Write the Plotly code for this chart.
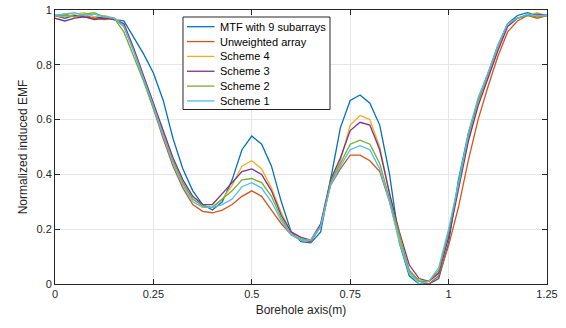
import plotly.graph_objects as go

x = [0, 0.025, 0.05, 0.075, 0.1, 0.125, 0.15, 0.175, 0.2, 0.225,
     0.25, 0.275, 0.3, 0.325, 0.35, 0.375, 0.4, 0.425, 0.45, 0.475,
     0.5, 0.525, 0.55, 0.575, 0.6, 0.625, 0.65, 0.675, 0.7, 0.725,
     0.75, 0.775, 0.8, 0.825, 0.85, 0.875, 0.9, 0.925, 0.95, 0.975,
     1.0, 1.025, 1.05, 1.075, 1.1, 1.125, 1.15, 1.175, 1.2, 1.225, 1.25]

mtf = [0.98, 0.97, 0.98, 0.975, 0.97, 0.975, 0.965, 0.96, 0.90, 0.84,
       0.77, 0.67, 0.53, 0.42, 0.34, 0.29, 0.27, 0.30, 0.38, 0.49,
       0.54, 0.51, 0.43, 0.30, 0.19, 0.155, 0.15, 0.19, 0.38, 0.57,
       0.67, 0.69, 0.66, 0.58, 0.40, 0.15, 0.03, 0.0, 0.0, 0.02,
       0.15, 0.38, 0.55, 0.67, 0.76, 0.87, 0.95, 0.98, 0.99, 0.98, 0.98]

unweighted = [0.98, 0.985, 0.975, 0.98, 0.97, 0.965, 0.97, 0.94, 0.85, 0.75,
              0.64, 0.53, 0.43, 0.35, 0.29, 0.265, 0.26, 0.27, 0.29, 0.32,
              0.34, 0.32, 0.27, 0.22, 0.18, 0.16, 0.155, 0.21, 0.36, 0.42,
              0.47, 0.47, 0.45, 0.41, 0.30, 0.16, 0.05, 0.01, 0.0, 0.03,
              0.14, 0.28, 0.45, 0.60, 0.72, 0.83, 0.92, 0.96, 0.98, 0.97, 0.98]

scheme4 = [0.98, 0.975, 0.985, 0.99, 0.975, 0.98, 0.97, 0.95, 0.86, 0.76,
           0.66, 0.55, 0.45, 0.37, 0.31, 0.285, 0.28, 0.31, 0.36, 0.43,
           0.45, 0.42, 0.35, 0.26, 0.19, 0.16, 0.16, 0.21, 0.37, 0.45,
           0.58, 0.615, 0.60, 0.50, 0.33, 0.16, 0.04, 0.01, 0.01, 0.04,
           0.18, 0.35, 0.53, 0.66, 0.76, 0.86, 0.95, 0.97, 0.98, 0.99, 0.98]

scheme3 = [0.97, 0.96, 0.97, 0.975, 0.965, 0.97, 0.965, 0.95, 0.86, 0.76,
           0.66, 0.56, 0.46, 0.38, 0.32, 0.29, 0.29, 0.33, 0.37, 0.41,
           0.42, 0.40, 0.34, 0.25, 0.19, 0.17, 0.16, 0.22, 0.38, 0.46,
           0.56, 0.59, 0.58, 0.49, 0.33, 0.19, 0.07, 0.02, 0.01, 0.04,
           0.17, 0.34, 0.52, 0.65, 0.75, 0.85, 0.94, 0.97, 0.98, 0.985, 0.98]

scheme2 = [0.98, 0.98, 0.975, 0.985, 0.99, 0.975, 0.97, 0.92, 0.83, 0.74,
           0.64, 0.54, 0.45, 0.37, 0.31, 0.285, 0.28, 0.31, 0.34, 0.38,
           0.385, 0.37, 0.32, 0.24, 0.18, 0.165, 0.16, 0.21, 0.37, 0.44,
           0.51, 0.525, 0.51, 0.44, 0.31, 0.17, 0.05, 0.01, 0.01, 0.05,
           0.19, 0.36, 0.54, 0.67, 0.77, 0.87, 0.95, 0.97, 0.98, 0.975, 0.98]

scheme1 = [0.98, 0.985, 0.99, 0.98, 0.985, 0.975, 0.97, 0.94, 0.85, 0.75,
           0.65, 0.54, 0.44, 0.36, 0.30, 0.28, 0.28, 0.29, 0.31, 0.355,
           0.37, 0.35, 0.30, 0.23, 0.18, 0.16, 0.16, 0.21, 0.36, 0.43,
           0.49, 0.505, 0.49, 0.42, 0.30, 0.15, 0.04, 0.0, 0.01, 0.06,
           0.20, 0.37, 0.55, 0.68, 0.77, 0.87, 0.95, 0.97, 0.985, 0.98, 0.98]

names = ["MTF with 9 subarrays", "Unweighted array", "Scheme 4",
         "Scheme 3", "Scheme 2", "Scheme 1"]
series = [mtf, unweighted, scheme4, scheme3, scheme2, scheme1]
colors = ["#0072BD", "#D95319", "#EDB120", "#7E2F8E", "#77AC30", "#4DBEEE"]

xticks = [0, 0.25, 0.5, 0.75, 1, 1.25]
xticklabels = ["0", "0.25", "0.5", "0.75", "1", "1.25"]
yticks = [0, 0.2, 0.4, 0.6, 0.8, 1]
yticklabels = ["0", "0.2", "0.4", "0.6", "0.8", "1"]

W, H = 566, 328
ML, MR, MT, MB = 55, 19, 10, 44
PW, PH = W - ML - MR, H - MT - MB

def px(v):
    return (v - ML) / PW

def py(v):
    return (H - MB - v) / PH

FONT = "Liberation Sans, Arial, sans-serif"

fig = go.Figure()
for n, s, c in zip(names, series, colors):
    fig.add_trace(go.Scatter(x=x, y=s, mode="lines", name=n,
                             line=dict(color=c, width=1.3), showlegend=False))

axis_common = dict(showline=True, linecolor="#262626", linewidth=1,
                   mirror="allticks", ticks="inside", ticklen=5,
                   tickcolor="#262626", showgrid=True, gridcolor="#e6e6e6",
                   gridwidth=1, zeroline=False, automargin=False,
                   tickfont=dict(family=FONT, size=11, color="#262626"))

fig.update_xaxes(range=[0, 1.25], tickvals=xticks, ticktext=xticklabels,
                 title=dict(text="Borehole axis(m)", standoff=6,
                            font=dict(family=FONT, size=12, color="#262626")),
                 **axis_common)
fig.update_yaxes(range=[0, 1], tickvals=yticks, ticktext=yticklabels,
                 title=dict(text="Normalized induced EMF", standoff=6,
                            font=dict(family=FONT, size=12, color="#262626")),
                 **axis_common)

# legend box (drawn manually to match compact MATLAB spacing)
box_l, box_r, box_t, box_b = 183, 330, 17, 109.5
row0, row_gap = 26.7, 14.85
shapes = [dict(type="rect", xref="paper", yref="paper",
               x0=px(box_l), x1=px(box_r), y0=py(box_b), y1=py(box_t),
               line=dict(color="#262626", width=1), fillcolor="white", layer="above")]
annotations = []
for i, (n, c) in enumerate(zip(names, colors)):
    yy = row0 + i * row_gap
    shapes.append(dict(type="line", xref="paper", yref="paper",
                       x0=px(187), x1=px(214.5), y0=py(yy), y1=py(yy),
                       line=dict(color=c, width=1.3), layer="above"))
    annotations.append(dict(text=n, xref="paper", yref="paper",
                            x=px(217.5), y=py(yy), xanchor="left", yanchor="middle",
                            showarrow=False,
                            font=dict(family=FONT, size=11, color="#000000")))

fig.update_layout(
    width=W, height=H,
    margin=dict(l=ML, r=MR, t=MT, b=MB, autoexpand=False),
    plot_bgcolor="white", paper_bgcolor="white",
    showlegend=False,
    shapes=shapes, annotations=annotations,
)

fig.write_html("out.html")
